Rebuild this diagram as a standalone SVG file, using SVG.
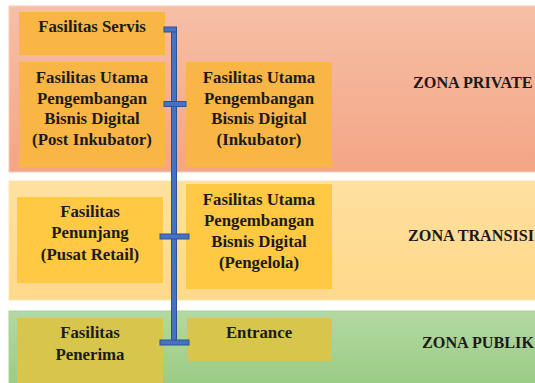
<svg xmlns="http://www.w3.org/2000/svg" width="535" height="383" viewBox="0 0 535 383">
<defs>
<linearGradient id="gPriv" x1="0" y1="0" x2="0" y2="1"><stop offset="0" stop-color="#F6BFA6"/><stop offset="1" stop-color="#F4A585"/></linearGradient>
<linearGradient id="gTran" x1="0" y1="0" x2="0" y2="1"><stop offset="0" stop-color="#FFE09F"/><stop offset="1" stop-color="#FFD98B"/></linearGradient>
<linearGradient id="gPub" x1="0" y1="0" x2="0" y2="1"><stop offset="0" stop-color="#B4D8A2"/><stop offset="1" stop-color="#98CB82"/></linearGradient>
<style>
.t{font-family:"Liberation Serif","Times New Roman",serif;font-weight:bold;font-size:16.8px;fill:#1b1b1b;text-anchor:middle}
.z{font-family:"Liberation Serif","Times New Roman",serif;font-weight:bold;font-size:16.2px;fill:#1b1b1b}
.bo{fill:#FAB644}
.bt{fill:#FFC943}
.bp{fill:#D8C54C}
.c{fill:#4472C4;stroke:#2F528F;stroke-width:1}
</style>
</defs>
<rect width="535" height="383" fill="#ffffff"/>
<g id="zona-private">
<rect x="9" y="6" width="530" height="166" fill="url(#gPriv)" stroke="#F9CDB8" stroke-width="1"/>
<text class="z" x="413" y="88">ZONA PRIVATE</text>
</g>
<g id="zona-transisi">
<rect x="9" y="181" width="530" height="119" fill="url(#gTran)" stroke="#FFE6B0" stroke-width="1"/>
<text class="z" x="408" y="241">ZONA TRANSISI</text>
</g>
<g id="zona-publik">
<rect x="9" y="311" width="530" height="80" fill="url(#gPub)" stroke="#A8D494" stroke-width="1"/>
<text class="z" x="422" y="348">ZONA PUBLIK</text>
</g>
<g id="fasilitas-servis">
<rect class="bo" x="19" y="12" width="146" height="43"/>
<text class="t" x="92" y="32">Fasilitas Servis</text>
</g>
<g id="post-inkubator">
<rect class="bo" x="19" y="62" width="146" height="105"/>
<text class="t" x="92" y="83">Fasilitas Utama</text>
<text class="t" x="92" y="104">Pengembangan</text>
<text class="t" x="92" y="124">Bisnis Digital</text>
<text class="t" x="92" y="145">(Post Inkubator)</text>
</g>
<g id="inkubator">
<rect class="bo" x="186" y="62" width="146" height="105"/>
<text class="t" x="259" y="83">Fasilitas Utama</text>
<text class="t" x="259" y="104">Pengembangan</text>
<text class="t" x="259" y="124">Bisnis Digital</text>
<text class="t" x="259" y="145">(Inkubator)</text>
</g>
<g id="penunjang">
<rect class="bt" x="17" y="197" width="146" height="86"/>
<text class="t" x="90" y="217">Fasilitas</text>
<text class="t" x="90" y="238">Penunjang</text>
<text class="t" x="90" y="260">(Pusat Retail)</text>
</g>
<g id="pengelola">
<rect class="bt" x="186" y="184" width="146" height="105"/>
<text class="t" x="259" y="205">Fasilitas Utama</text>
<text class="t" x="259" y="226">Pengembangan</text>
<text class="t" x="259" y="247">Bisnis Digital</text>
<text class="t" x="259" y="268">(Pengelola)</text>
</g>
<g id="penerima">
<rect class="bp" x="17" y="318" width="146" height="70"/>
<text class="t" x="90" y="338">Fasilitas</text>
<text class="t" x="90" y="360">Penerima</text>
</g>
<g id="entrance">
<rect class="bp" x="187" y="318" width="145" height="43"/>
<text class="t" x="259" y="338">Entrance</text>
</g>
<g id="connectors">
<rect class="c" x="171.5" y="28" width="5" height="316"/>
<rect class="c" x="164" y="27" width="12.5" height="5"/>
<rect class="c" x="164" y="101.5" width="22" height="5"/>
<rect class="c" x="160" y="234" width="29" height="5"/>
<rect class="c" x="160" y="340" width="29" height="5"/>
</g>
</svg>
